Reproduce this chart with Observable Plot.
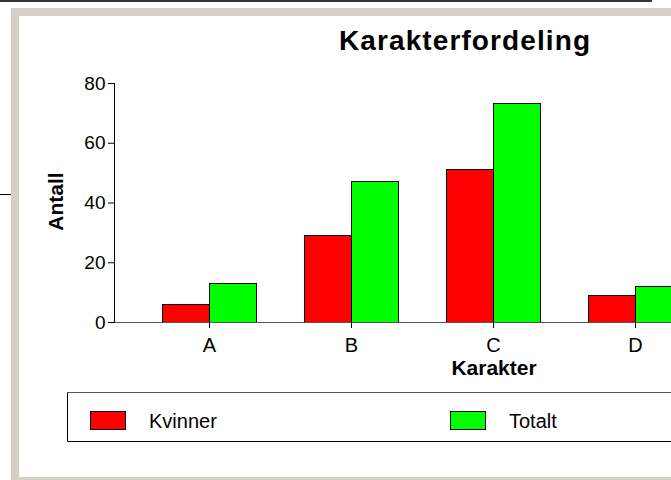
<!DOCTYPE html>
<html><head><meta charset="utf-8">
<script src="https://cdn.jsdelivr.net/npm/d3@7"></script>
<script src="https://cdn.jsdelivr.net/npm/@observablehq/plot@0.6"></script>
<style>
html,body{margin:0;padding:0;background:#fff;overflow:hidden;}
#wrap{position:relative;width:671px;height:480px;overflow:hidden;background:#fff;font-family:"Liberation Sans",Arial,sans-serif;}
#topline{position:absolute;left:0;top:0;width:652px;height:2px;background:#333;}
#sideline{position:absolute;left:0;top:194px;width:11px;height:1px;background:#000;}
#frame{position:absolute;left:11px;top:8px;width:900px;height:477px;box-sizing:border-box;border-left:8px solid #d4d0c8;border-top:8px solid #d4d0c8;border-bottom:8px solid #d4d0c8;border-right:0;}
#plot,#overlay{position:absolute;left:0;top:0;}
</style></head><body>
<div id="wrap"><div id="topline"></div><div id="sideline"></div><div id="frame"></div><div id="plot"></div><svg id="overlay" width="671" height="480"></svg></div>
<script>
// ---- data ----
const grades = ["A", "B", "C", "D"];
const kvinner = [6, 29, 51, 9];
const totalt = [13, 47, 73, 12];
const seriesNames = ["Kvinner", "Totalt"];
const seriesColors = ["#ff0000", "#00ff00"];
const yTicks = [0, 20, 40, 60, 80];
const titleText = "Karakterfordeling";
const xLabel = "Karakter";
const yLabel = "Antall";

const rowsK = grades.map((g, i) => ({grade: g, serie: seriesNames[0], value: kvinner[i]}));
const rowsT = grades.map((g, i) => ({grade: g, serie: seriesNames[1], value: totalt[i]}));

const font = "Liberation Sans, Arial, sans-serif";
const chart = Plot.plot({
  width: 671, height: 480,
  marginLeft: 114, marginRight: 0, marginTop: 83, marginBottom: 158,
  style: {background: "transparent", fontFamily: font, fontSize: "19px", color: "#000"},
  x: {domain: grades, range: [162, 682.6], paddingInner: 0.339, paddingOuter: 0, label: null},
  y: {domain: [0, 80], label: null},
  color: {domain: seriesNames, range: seriesColors},
  marks: [
    Plot.barY(rowsK, {x: "grade", y: "value", fill: "serie", stroke: "#000", strokeWidth: 1, insetRight: 47, shapeRendering: "crispEdges"}),
    Plot.barY(rowsT, {x: "grade", y: "value", fill: "serie", stroke: "#000", strokeWidth: 1, insetLeft: 47, shapeRendering: "crispEdges"}),
    Plot.ruleY([0], {stroke: "#555"}),
    Plot.frame({anchor: "left", stroke: "#000"}),
    Plot.axisY({ticks: yTicks, tickSize: 6, tickPadding: 3, fontSize: 19, label: null}),
    Plot.axisX({tickSize: 6, tickPadding: 9, fontSize: 20, label: null})
  ]
});
document.getElementById("plot").appendChild(chart);

// ---- titles and legend (text as real SVG text) ----
const ov = d3.select("#overlay").style("font-family", font);
ov.append("text").attr("x", 339).attr("y", 50).attr("font-size", 28).attr("font-weight", "bold")
  .attr("letter-spacing", 1.1).attr("fill", "#000").text(titleText);
ov.append("text").attr("x", 494).attr("y", 375).attr("font-size", 21).attr("font-weight", "bold")
  .attr("text-anchor", "middle").attr("fill", "#000").text(xLabel);
ov.append("text").attr("transform", "translate(63,201.5) rotate(-90)").attr("font-size", 21).attr("font-weight", "bold")
  .attr("text-anchor", "middle").attr("fill", "#000").text(yLabel);

// legend box
ov.append("line").attr("x1", 67.5).attr("x2", 700).attr("y1", 392.5).attr("y2", 392.5).attr("stroke", "#555");
ov.append("line").attr("x1", 67.5).attr("x2", 700).attr("y1", 441.5).attr("y2", 441.5).attr("stroke", "#000");
ov.append("line").attr("x1", 67.5).attr("x2", 67.5).attr("y1", 392.5).attr("y2", 441.5).attr("stroke", "#000");
const legX = [90, 450];
seriesNames.forEach((name, i) => {
  ov.append("rect").attr("x", legX[i] + 0.5).attr("y", 411.5).attr("width", 35).attr("height", 18)
    .attr("fill", seriesColors[i]).attr("stroke", "#000");
  ov.append("text").attr("x", legX[i] + 59).attr("y", 428).attr("font-size", 20).attr("fill", "#000").text(name);
});
</script>
</body></html>
